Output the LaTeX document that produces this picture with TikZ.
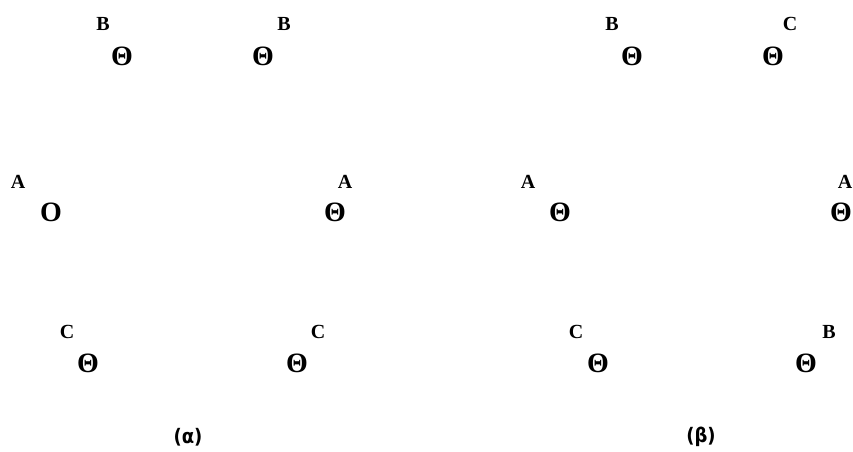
\documentclass[tikz,border=0pt]{standalone}
\usepackage{fontspec}
\setmainfont{Liberation Serif}
\newfontfamily\capfont{DejaVu Sans Condensed}
\begin{document}
\begin{tikzpicture}[x=1pt,y=-1pt,
  atom/.style={inner sep=0pt,font=\bfseries\fontsize{28}{30}\selectfont},
  lbl/.style={inner sep=0pt,font=\bfseries\fontsize{20}{22}\selectfont},
  captext/.style={inner sep=0pt,font=\capfont\bfseries\fontsize{20}{22}\selectfont}]
\useasboundingbox (0,0) rectangle (853,451);
% panel (alpha)
\node[lbl]  (aB1l) at (103,24) {B};
\node[atom] (aB1)  at (122,56) {Θ};
\node[lbl]  (aB2l) at (284,24) {B};
\node[atom] (aB2)  at (263,56) {Θ};
\node[lbl]  (aA1l) at (18,182) {A};
\node[atom] (aA1)  at (51,212) {O};
\node[lbl]  (aA2l) at (345,182) {A};
\node[atom] (aA2)  at (335,212) {Θ};
\node[lbl]  (aC1l) at (67,332) {C};
\node[atom] (aC1)  at (88,363) {Θ};
\node[lbl]  (aC2l) at (318,332) {C};
\node[atom] (aC2)  at (297,363) {Θ};
\node[captext]  (acap) at (188,437) {(α)};
% panel (beta)
\node[lbl]  (bB1l) at (612,24) {B};
\node[atom] (bB1)  at (632,56) {Θ};
\node[lbl]  (bC1l) at (790,24) {C};
\node[atom] (bC1)  at (773,56) {Θ};
\node[lbl]  (bA1l) at (528,182) {A};
\node[atom] (bA1)  at (560,212) {Θ};
\node[lbl]  (bA2l) at (845,182) {A};
\node[atom] (bA2)  at (841,212) {Θ};
\node[lbl]  (bC2l) at (576,332) {C};
\node[atom] (bC2)  at (598,363) {Θ};
\node[lbl]  (bB2l) at (829,332) {B};
\node[atom] (bB2)  at (806,363) {Θ};
\node[captext]  (bcap) at (701,437) {(β)};
\end{tikzpicture}
\end{document}
